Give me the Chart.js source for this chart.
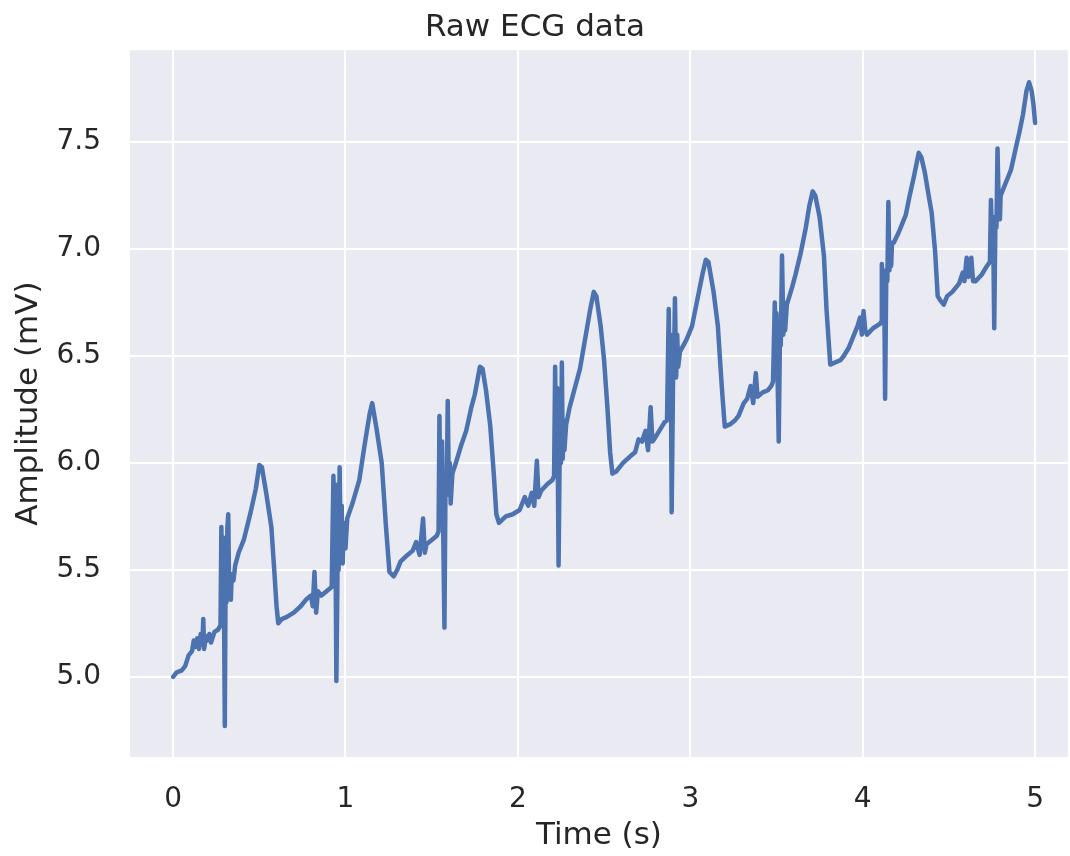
<!DOCTYPE html>
<html>
<head>
<meta charset="utf-8">
<script src="https://cdn.jsdelivr.net/npm/chart.js@4.4.1/dist/chart.umd.min.js"></script>
<style>
  html, body { margin: 0; padding: 0; background: #ffffff; overflow: hidden; }
  #wrap { width: 1070px; height: 856px; position: relative; }
</style>
</head>
<body>
<div id="wrap"><canvas id="myChart"></canvas></div>
<script>
// time (s) and amplitude (mV)
const times = [
  0.00, 0.02, 0.05, 0.07, 0.09, 0.11, 0.12, 0.13, 0.14, 0.15, 0.16, 0.17, 0.175, 0.18, 0.19, 0.20, 0.21, 0.22, 0.24, 0.26,
  0.275, 0.28, 0.285, 0.29, 0.295, 0.30, 0.305, 0.31, 0.315, 0.32, 0.325, 0.33, 0.335, 0.34, 0.35, 0.36, 0.38, 0.41, 0.45, 0.48,
  0.50, 0.515, 0.54, 0.57, 0.585, 0.60, 0.61, 0.63, 0.66, 0.70, 0.74, 0.77, 0.80, 0.81, 0.82, 0.83, 0.84, 0.86, 0.89, 0.92,
  0.93, 0.935, 0.94, 0.947, 0.955, 0.96, 0.966, 0.972, 0.978, 0.984, 0.99, 1.00, 1.01, 1.04, 1.08, 1.11, 1.14, 1.155, 1.18, 1.21,
  1.235, 1.255, 1.28, 1.30, 1.32, 1.36, 1.39, 1.41, 1.43, 1.45, 1.46, 1.47, 1.50, 1.53,
  1.54, 1.545, 1.55, 1.56, 1.574, 1.58, 1.587, 1.593, 1.60, 1.605, 1.61, 1.62, 1.64, 1.67, 1.70, 1.73, 1.75, 1.78, 1.795, 1.815,
  1.84, 1.86, 1.875, 1.89, 1.93, 1.97, 2.01, 2.04, 2.06, 2.08, 2.095, 2.11, 2.12, 2.135, 2.17, 2.20,
  2.21, 2.216, 2.222, 2.228, 2.236, 2.243, 2.25, 2.255, 2.26, 2.265, 2.27, 2.28, 2.30, 2.33, 2.36, 2.39, 2.42, 2.44, 2.455, 2.48,
  2.50, 2.52, 2.535, 2.548, 2.57, 2.61, 2.65, 2.68, 2.70, 2.72, 2.74, 2.755, 2.77, 2.78, 2.79, 2.82, 2.85,
  2.865, 2.875, 2.88, 2.886, 2.892, 2.90, 2.905, 2.911, 2.918, 2.924, 2.93, 2.94, 2.96, 2.98, 3.01, 3.04, 3.07, 3.09, 3.105, 3.135,
  3.16, 3.175, 3.185, 3.20, 3.23, 3.26, 3.28, 3.31, 3.33, 3.35, 3.365, 3.38, 3.39, 3.42, 3.45, 3.47,
  3.48, 3.49, 3.495, 3.50, 3.513, 3.52, 3.525, 3.532, 3.54, 3.545, 3.55, 3.56, 3.59, 3.61, 3.64, 3.67, 3.69, 3.71, 3.725, 3.75,
  3.775, 3.79, 3.80, 3.812, 3.84, 3.87, 3.89, 3.92, 3.95, 3.97, 3.985, 3.995, 4.005, 4.015, 4.025, 4.06, 4.10,
  4.108, 4.111, 4.118, 4.124, 4.13, 4.137, 4.143, 4.149, 4.155, 4.16, 4.165, 4.17, 4.18, 4.21, 4.25, 4.27, 4.30, 4.325, 4.34, 4.36,
  4.385, 4.40, 4.42, 4.435, 4.45, 4.47, 4.49, 4.52, 4.56, 4.58, 4.59, 4.603, 4.612, 4.622, 4.63, 4.64, 4.655, 4.69, 4.72,
  4.738, 4.744, 4.75, 4.756, 4.763, 4.77, 4.776, 4.782, 4.79, 4.796, 4.80, 4.815, 4.84, 4.86, 4.89, 4.91, 4.93, 4.95, 4.965, 4.98,
  4.99, 5.00
];
const amplitude = [
  5.00, 5.02, 5.03, 5.05, 5.10, 5.12, 5.17, 5.14, 5.18, 5.13, 5.20, 5.15, 5.27, 5.13, 5.19, 5.17, 5.20, 5.16, 5.21, 5.22,
  5.24, 5.70, 5.40, 5.65, 5.35, 4.77, 5.55, 5.35, 5.70, 5.76, 5.40, 5.45, 5.36, 5.48, 5.45, 5.52, 5.58, 5.64, 5.77, 5.88,
  5.99, 5.98, 5.86, 5.70, 5.52, 5.33, 5.25, 5.27, 5.28, 5.30, 5.33, 5.36, 5.38, 5.33, 5.49, 5.30, 5.40, 5.38, 5.40, 5.42,
  5.94, 5.50, 5.90, 4.98, 5.60, 5.50, 5.98, 5.55, 5.80, 5.53, 5.72, 5.60, 5.74, 5.81, 5.92, 6.08, 6.23, 6.28, 6.16, 6.00,
  5.70, 5.49, 5.47, 5.50, 5.54, 5.57, 5.59, 5.63, 5.57, 5.74, 5.58, 5.62, 5.64, 5.66,
  5.68, 6.22, 5.80, 6.10, 5.23, 5.90, 5.85, 6.29, 5.85, 6.00, 5.81, 5.95, 6.00, 6.08, 6.15, 6.26, 6.32, 6.45, 6.44, 6.34,
  6.17, 5.95, 5.76, 5.72, 5.75, 5.76, 5.78, 5.84, 5.80, 5.86, 5.80, 6.01, 5.84, 5.87, 5.90, 5.92,
  5.94, 6.45, 6.05, 6.35, 5.52, 6.10, 6.00, 6.47, 6.02, 6.20, 6.06, 6.18, 6.26, 6.35, 6.44, 6.58, 6.72, 6.80, 6.78, 6.64,
  6.48, 6.25, 6.05, 5.95, 5.96, 6.00, 6.03, 6.05, 6.11, 6.10, 6.15, 6.06, 6.26, 6.10, 6.11, 6.15, 6.19,
  6.20, 6.72, 6.35, 6.60, 5.77, 6.40, 6.45, 6.77, 6.40, 6.60, 6.45, 6.52, 6.55, 6.58, 6.64, 6.76, 6.88, 6.95, 6.94, 6.80,
  6.64, 6.45, 6.33, 6.17, 6.18, 6.20, 6.22, 6.28, 6.30, 6.36, 6.28, 6.42, 6.31, 6.33, 6.34, 6.36,
  6.38, 6.75, 6.55, 6.70, 6.10, 6.60, 6.55, 6.97, 6.60, 6.75, 6.62, 6.74, 6.82, 6.88, 6.98, 7.10, 7.20, 7.27, 7.25, 7.15,
  6.97, 6.72, 6.60, 6.46, 6.47, 6.48, 6.50, 6.54, 6.60, 6.64, 6.68, 6.60, 6.71, 6.62, 6.60, 6.63, 6.65,
  6.66, 6.93, 6.75, 6.90, 6.30, 6.90, 6.85, 7.22, 6.90, 7.00, 6.92, 7.03, 7.03, 7.08, 7.16, 7.24, 7.35, 7.45, 7.43, 7.36,
  7.24, 7.17, 6.99, 6.78, 6.76, 6.74, 6.78, 6.80, 6.84, 6.89, 6.85, 6.96, 6.87, 6.89, 6.96, 6.85, 6.85, 6.88, 6.92,
  6.94, 7.23, 7.05, 7.15, 6.63, 7.15, 7.10, 7.47, 7.15, 7.14, 7.25, 7.28, 7.33, 7.37, 7.48, 7.55, 7.63, 7.74, 7.78, 7.74,
  7.68, 7.59
];
const xTicks = [0, 1, 2, 3, 4, 5];
const yTicks = [5.0, 5.5, 6.0, 6.5, 7.0, 7.5];

const textColor = '#262626';
const fontFamily = "'DejaVu Sans', sans-serif";

// paints the grey seaborn background behind the plot
const plotBackground = {
  id: 'plotBackground',
  beforeDraw(chart) {
    const { ctx, chartArea } = chart;
    ctx.save();
    ctx.fillStyle = '#EAEAF2';
    ctx.fillRect(chartArea.left, chartArea.top, chartArea.right - chartArea.left, chartArea.bottom - chartArea.top);
    ctx.restore();
  }
};

const points = times.map((t, i) => ({ x: t, y: amplitude[i] }));

const ctx = document.getElementById('myChart');
new Chart(ctx, {
  type: 'line',
  data: {
    datasets: [{
      label: 'ECG',
      data: points,
      borderColor: '#4C72B0',
      borderWidth: 4.5,
      borderJoinStyle: 'round',
      borderCapStyle: 'round',
      pointRadius: 0,
      tension: 0,
      fill: false
    }]
  },
  options: {
    responsive: true,
    maintainAspectRatio: false,
    animation: false,
    devicePixelRatio: 1,
    layout: { padding: 0 },
    plugins: {
      legend: { display: false },
      tooltip: { enabled: false },
      title: {
        display: true,
        text: 'Raw ECG data',
        color: textColor,
        font: { family: fontFamily, size: 31, weight: 'normal' },
        padding: { top: 9, bottom: 4 }
      }
    },
    scales: {
      x: {
        type: 'linear',
        min: -0.25,
        max: 5.19,
        afterBuildTicks: (scale) => { scale.ticks = xTicks.map(v => ({ value: v })); },
        afterFit: (scale) => { scale.height = 99; },
        grid: { color: '#ffffff', lineWidth: 2, drawTicks: false },
        border: { display: false },
        ticks: {
          color: textColor,
          padding: 26,
          font: { family: fontFamily, size: 28 },
          callback: (v) => String(v)
        },
        title: {
          display: true,
          text: 'Time (s)',
          color: textColor,
          font: { family: fontFamily, size: 31, lineHeight: 1.1 },
          padding: { top: 0, bottom: 3 }
        }
      },
      y: {
        min: 4.625,
        max: 7.93,
        afterBuildTicks: (scale) => { scale.ticks = yTicks.map(v => ({ value: v })); },
        afterFit: (scale) => { scale.width = 130; },
        grid: { color: '#ffffff', lineWidth: 2, drawTicks: false },
        border: { display: false },
        ticks: {
          color: textColor,
          padding: 29,
          font: { family: fontFamily, size: 28 },
          callback: (v) => Number(v).toFixed(1)
        },
        title: {
          display: true,
          text: 'Amplitude (mV)',
          color: textColor,
          font: { family: fontFamily, size: 31 },
          padding: { top: 10, bottom: 0 }
        }
      }
    }
  },
  plugins: [plotBackground]
});
</script>
</body>
</html>
